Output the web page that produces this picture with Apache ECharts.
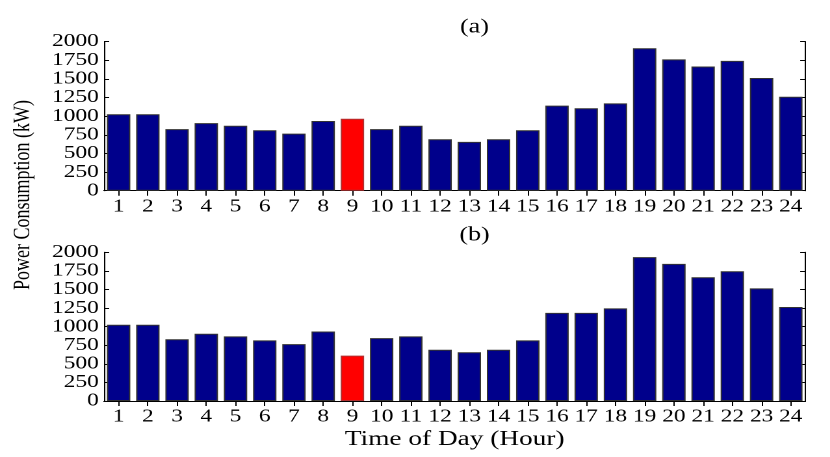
<!DOCTYPE html>
<html><head><meta charset="utf-8">
<script src="https://cdn.jsdelivr.net/npm/echarts@6/dist/echarts.min.js"></script>
<style>
html,body{margin:0;padding:0;background:#fff;overflow:hidden}
#wrap{width:830px;height:457px;overflow:hidden}
#c{width:638.46px;height:457px;transform:scaleX(1.3);transform-origin:0 0}
</style>
</head><body><div id="wrap"><div id="c"></div></div>
<script>
const hours = ['1','2','3','4','5','6','7','8','9','10','11','12','13','14','15','16','17','18','19','20','21','22','23','24'];
const valuesA = [1025,1025,825,905,870,810,765,935,965,825,870,690,655,690,810,1140,1105,1170,1910,1760,1665,1740,1510,1260];
const valuesB = [1025,1025,830,905,870,815,765,935,610,845,870,690,655,690,815,1185,1185,1245,1935,1845,1665,1745,1515,1265];
const highlightIndex = 8;
const yTicks = [0,2000,250];
const titles = ['(a)','(b)'];
const xName = 'Time of Day (Hour)';
const yName = 'Power Consumption (kW)';

const S = 1.3;            // horizontal stretch of the page
const FONT = 'Liberation Serif';
const NAVY = '#00008b';
const RED = '#ff0000';

function mkData(vals){
  return vals.map((v,i)=>({value:v,itemStyle:{color: i===highlightIndex?RED:NAVY, borderColor: i===highlightIndex?'#b03030':'#333', borderWidth:1}}));
}
const L = 104/S, R = 24/S;
const grids = [{left:L,right:R,top:41.5,height:149.2},{left:L,right:R,top:252.3,height:148.7}];
const xAxes=[], yAxes=[], series=[];
[valuesA,valuesB].forEach((vals,g)=>{
  xAxes.push({type:'category',data:hours,gridIndex:g,position:'bottom',
    axisLine:{lineStyle:{color:'#000',width:1}},
    axisTick:{show:true,inside:true,alignWithLabel:true,length:5,lineStyle:{color:'#000'}},
    axisLabel:{interval:0,color:'#000',fontFamily:FONT,fontSize:18,margin:7},
    name: g===1?xName:'', nameLocation:'middle', nameGap:28,
    nameTextStyle:{color:'#000',fontFamily:FONT,fontSize:21}});
  xAxes.push({type:'category',data:hours,gridIndex:g,position:'top',
    axisLine:{lineStyle:{color:'#000',width:1}},
    axisTick:{show:true,inside:true,alignWithLabel:true,length:5,lineStyle:{color:'#000'}},
    axisLabel:{show:false}});
  yAxes.push({type:'value',gridIndex:g,min:yTicks[0],max:yTicks[1],interval:yTicks[2],position:'left',
    axisLine:{show:true,lineStyle:{color:'#000',width:1}},
    axisTick:{show:true,inside:true,length:4,lineStyle:{color:'#000'}},
    splitLine:{show:false},
    axisLabel:{color:'#000',fontFamily:FONT,fontSize:18,margin:4,formatter:v=>String(v)}});
  yAxes.push({type:'value',gridIndex:g,min:yTicks[0],max:yTicks[1],interval:yTicks[2],position:'right',
    axisLine:{show:true,lineStyle:{color:'#000',width:1}},
    axisTick:{show:true,inside:true,length:4,lineStyle:{color:'#000'}},
    splitLine:{show:false},axisLabel:{show:false}});
  series.push({type:'bar',xAxisIndex:g*2,yAxisIndex:g*2,data:mkData(vals),barWidth:'80%',z:1});
});

const chart = echarts.init(document.getElementById('c'),null,{renderer:'canvas',devicePixelRatio:2});
chart.setOption({
  animation:false,
  backgroundColor:'#fff',
  title:[
    {text:titles[0],left:468/S,top:12,textAlign:'center',textStyle:{fontFamily:FONT,fontSize:20,fontWeight:'normal',color:'#000'}},
    {text:titles[1],left:468/S,top:220,textAlign:'center',textStyle:{fontFamily:FONT,fontSize:20,fontWeight:'normal',color:'#000'}}
  ],
  grid:grids,
  xAxis:xAxes,
  yAxis:yAxes,
  series:series,
  graphic:[{type:'text',x:23/S,y:195,rotation:Math.PI/2,
    style:{text:yName,font:'18px "'+FONT+'"',fill:'#000',textAlign:'center',textVerticalAlign:'middle'}}]
});
</script></body></html>
